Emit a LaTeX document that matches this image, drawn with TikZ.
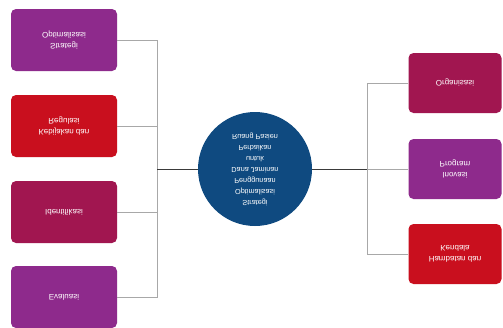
\documentclass[tikz,border=0pt]{standalone}
\usepackage{fontspec}
\setmainfont{Liberation Sans}
\definecolor{cpurple}{HTML}{8E2A8C}
\definecolor{cred}{HTML}{C90F1E}
\definecolor{ccrimson}{HTML}{A11650}
\definecolor{cnavy}{HTML}{0F4A80}
\definecolor{cgray}{HTML}{A8A8A8}
\definecolor{cdark}{HTML}{3A3A3A}
\tikzset{
  box/.style={rectangle, rounded corners=5pt, minimum width=106pt, minimum height=62pt,
    text=white, font=\fontsize{8}{10.5}\selectfont, align=center, inner sep=2pt, yscale=-1},
  rbox/.style={box, minimum width=93pt, minimum height=60pt},
  hub/.style={circle, fill=cnavy, minimum size=114pt, inner sep=0pt, text=white,
    font=\fontsize{7.3}{11}\selectfont, align=center, yscale=-1},
  conn/.style={draw=cgray, line width=1pt},
  darkconn/.style={draw=cdark, line width=0.9pt}
}
\begin{document}
\begin{tikzpicture}[x=1pt, y=-1pt]
\useasboundingbox[fill=white] (0,0) rectangle (503,327);
% left boxes
\node[box, fill=cpurple] (L1) at (64,40) {Strategi\\Optimalisasi};
\node[box, fill=cred] (L2) at (64,126) {Kebijakan dan\\Regulasi};
\node[box, fill=ccrimson] (L3) at (64,212) {Identifikasi};
\node[box, fill=cpurple] (L4) at (64,297) {Evaluasi};
% hub
\node[hub] (C) at (255,169) {Strategi\\Optimalisasi\\Penggunaan\\Dana Jaminan\\untuk\\Perbaikan\\Ruang Pasien};
% right boxes
\node[rbox, fill=ccrimson] (R1) at (455,83) {Organisasi};
\node[rbox, fill=cpurple] (R2) at (455,169) {Inovasi\\Program};
\node[rbox, fill=cred] (R3) at (455,254) {Hambatan dan\\Kendala};
% junctions
\coordinate (jl) at (157,169);
\coordinate (jr) at (367,169);
% left connectors
\draw[conn] (L1.east) -- (L1.east -| jl) -- (L4.east -| jl) -- (L4.east);
\draw[conn] (L2.east) -- (L2.east -| jl);
\draw[conn] (L3.east) -- (L3.east -| jl);
\draw[darkconn] (jl) -- (C.west);
% right connectors
\draw[conn] (R1.west) -- (R1.west -| jr) -- (R3.west -| jr) -- (R3.west);
\draw[conn] (jr) -- (R2.west);
\draw[darkconn] (C.east) -- (jr);
\end{tikzpicture}
\end{document}
